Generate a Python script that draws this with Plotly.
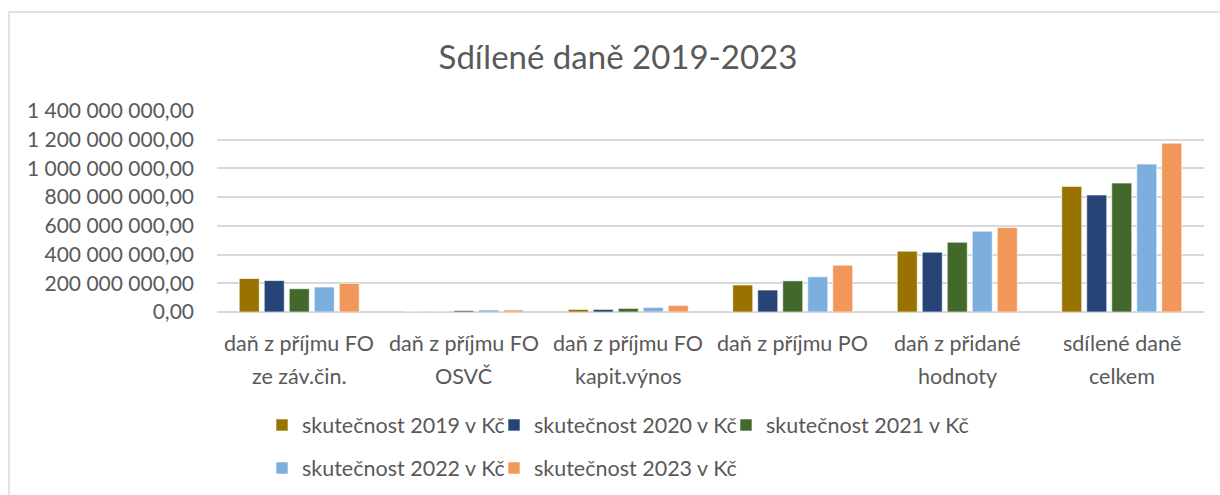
import plotly.graph_objects as go

categories = ["daň z příjmu FO<br>ze záv.čin.", "daň z příjmu FO<br>OSVČ", "daň z příjmu FO<br>kapit.výnos",
              "daň z příjmu PO", "daň z přidané<br>hodnoty", "sdílené daně<br>celkem"]
series_names = ["skutečnost 2019 v Kč", "skutečnost 2020 v Kč", "skutečnost 2021 v Kč",
                "skutečnost 2022 v Kč", "skutečnost 2023 v Kč"]
v2019 = [233e6, 2e6, 18e6, 188e6, 424e6, 875e6]
v2020 = [219e6, 1e6, 18e6, 153e6, 417e6, 815e6]
v2021 = [162e6, 10e6, 25e6, 217e6, 486e6, 898e6]
v2022 = [174e6, 14e6, 32e6, 245e6, 563e6, 1030e6]
v2023 = [199e6, 14e6, 46e6, 326e6, 588e6, 1176e6]
tick_vals = [0, 200e6, 400e6, 600e6, 800e6, 1000e6, 1200e6, 1400e6]
tick_text = ["0,00", "200 000 000,00", "400 000 000,00", "600 000 000,00", "800 000 000,00",
             "1 000 000 000,00", "1 200 000 000,00", "1 400 000 000,00"]
colors = ["#997300", "#264478", "#43682B", "#7CAFDD", "#F1975A"]

W, H = 1220, 495
L, R, T, B = 217, 16, 111, 183
pw, ph = W - L - R, H - T - B
FONT = "Lato"
TXT = "#595959"

# legend item anchor positions (px): left edge of each legend box and row centre
legend_pos = [(262, 425), (494, 425), (726, 425), (262, 468), (494, 468)]
legend_ids = ["legend", "legend2", "legend3", "legend4", "legend5"]

fig = go.Figure()
all_vals = [v2019, v2020, v2021, v2022, v2023]
for i, (name, vals) in enumerate(zip(series_names, all_vals)):
    fig.add_trace(go.Bar(
        x=list(range(len(categories))), y=vals, name=name, showlegend=True,
        marker=dict(color=colors[i], line=dict(color="rgba(255,255,255,0.6)", width=1)),
        legend=legend_ids[i],
    ))

def px_to_paper_y(py):
    return (H - B - py) / ph

def px_to_paper_x(px):
    return (px - L) / pw

annotations = []
for ci, cat in enumerate(categories):
    lines = cat.split("<br>")
    for li, line in enumerate(lines):
        annotations.append(dict(
            x=ci, y=px_to_paper_y(343 + 33 * li), xref="x", yref="paper",
            text=line, showarrow=False, xanchor="center", yanchor="middle",
            font=dict(family=FONT, size=21.5, color=TXT)))

legends = {}
for lid, (lx, ly) in zip(legend_ids, legend_pos):
    legends[lid] = dict(orientation="h", xref="container", yref="container",
                        x=lx / W, xanchor="left", y=1 - ly / H, yanchor="middle",
                        font=dict(family=FONT, size=21.5, color=TXT),
                        bgcolor="rgba(0,0,0,0)")

fig.update_layout(
    width=W, height=H,
    showlegend=True,
    margin=dict(l=L, r=R, t=T, b=B, autoexpand=False),
    paper_bgcolor="white", plot_bgcolor="white",
    barmode="group", bargap=0.24, bargroupgap=0.2,
    title=dict(text="Sdílené daně 2019-2023", x=618 / W, xanchor="center",
               y=1 - 57 / H, yanchor="middle", yref="container",
               font=dict(family=FONT, size=33, color=TXT)),
    xaxis=dict(range=[-0.5, len(categories) - 0.5], showticklabels=False, showgrid=False,
               zeroline=False, showline=False, ticks=""),
    yaxis=dict(range=[0, 1.4e9], tickvals=tick_vals, ticktext=tick_text,
               gridcolor="#D9D9D9", gridwidth=1.5, zeroline=True, zerolinecolor="#D9D9D9",
               zerolinewidth=1.5, showline=False, ticks="", ticklabelstandoff=22,
               tickfont=dict(family=FONT, size=21, color=TXT)),
    annotations=annotations,
    shapes=[dict(type="rect", xref="paper", yref="paper",
                 x0=px_to_paper_x(9), x1=px_to_paper_x(1240),
                 y0=px_to_paper_y(520), y1=px_to_paper_y(12),
                 line=dict(color="#D9D9D9", width=1.5), fillcolor="rgba(0,0,0,0)", layer="below")],
    **legends,
)

fig.write_html("out.html")
